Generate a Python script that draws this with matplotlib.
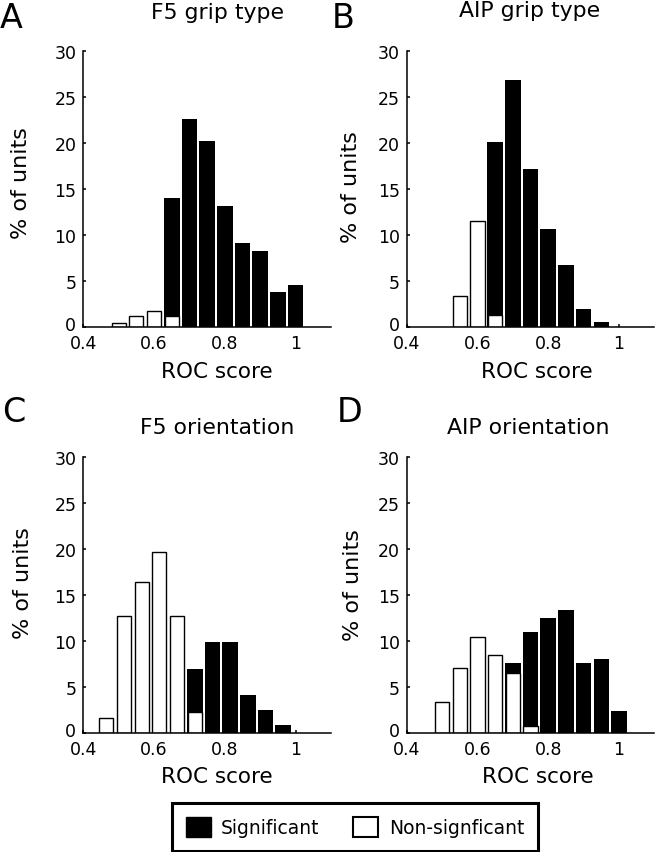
import matplotlib
matplotlib.use("Agg")
import matplotlib.pyplot as plt
import matplotlib.transforms as mtransforms
from matplotlib.patches import Patch
import numpy as np

# bin centres (ROC score) and % of units per bin
f5_grip_bins = [0.50, 0.55, 0.60, 0.65, 0.70, 0.75, 0.80, 0.85, 0.90, 0.95, 1.00]
f5_grip_sig = [0, 0, 0, 14.0, 22.6, 20.2, 13.2, 9.1, 8.3, 3.8, 4.6]
f5_grip_nonsig = [0.45, 1.25, 1.7, 1.15, 0, 0, 0, 0, 0, 0, 0]

aip_grip_bins = [0.55, 0.60, 0.65, 0.70, 0.75, 0.80, 0.85, 0.90, 0.95]
aip_grip_sig = [0, 0, 20.1, 26.8, 17.2, 10.6, 6.7, 2.0, 0.58]
aip_grip_nonsig = [3.35, 11.5, 1.35, 0, 0, 0, 0, 0, 0]

f5_orient_bins = [0.465, 0.515, 0.565, 0.615, 0.665, 0.715, 0.765, 0.815, 0.865, 0.915, 0.965]
f5_orient_sig = [0, 0, 0, 0, 0, 7.0, 9.9, 9.9, 4.15, 2.5, 0.85]
f5_orient_nonsig = [1.7, 12.7, 16.4, 19.7, 12.7, 2.3, 0, 0, 0, 0, 0]

aip_orient_bins = [0.50, 0.55, 0.60, 0.65, 0.70, 0.75, 0.80, 0.85, 0.90, 0.95, 1.00]
aip_orient_sig = [0, 0, 0, 0, 7.65, 11.05, 12.5, 13.4, 7.65, 8.1, 2.45]
aip_orient_nonsig = [3.35, 7.1, 10.5, 8.55, 6.55, 0.8, 0, 0, 0, 0, 0]

titles = ["F5 grip type", "AIP grip type", "F5 orientation", "AIP orientation"]
letters = ["A", "B", "C", "D"]
x_ticks = [0.4, 0.6, 0.8, 1.0]
x_ticklabels = ["0.4", "0.6", "0.8", "1"]
y_ticks = [0, 5, 10, 15, 20, 25, 30]

W, H = 655, 853
fig = plt.figure(figsize=(W / 100, H / 100), dpi=100)


def px_text(x, y, s, **kw):
    # place text using pixel coords measured from the top left
    fig.text(x / W, 1 - y / H, s, **kw)


def do_hist(left, top, bins, sig, nonsig):
    # axes box in pixels: left, top, 247.7 wide, 276 tall
    ax = fig.add_axes([left / W, 1 - (top + 276) / H, 247.7 / W, 276 / H])
    bins = np.array(bins)
    sig = np.array(sig)
    nonsig = np.array(nonsig)

    s = sig > 0
    ax.bar(bins[s], sig[s], width=0.044, color="black", linewidth=0)
    n = nonsig > 0
    ax.bar(bins[n], nonsig[n], width=0.040, facecolor="white", edgecolor="black", linewidth=1.0)

    ax.set_xlim(0.4, 1.1)
    ax.set_ylim(0, 30)
    ax.set_xticks(x_ticks)
    ax.set_xticklabels(x_ticklabels)
    ax.set_yticks(y_ticks)
    ax.set_axisbelow(True)

    ax.spines["top"].set_visible(False)
    ax.spines["right"].set_visible(False)
    for sp in ["left", "bottom"]:
        ax.spines[sp].set_linewidth(1.1)
    ax.tick_params(direction="in", length=2.5, width=1.1, labelsize=12.5)
    ax.tick_params(axis="y", pad=5)
    ax.tick_params(axis="x", pad=5)

    # nudge the "0" on the y axis up a bit so it clears the "0.4" below it
    lab0 = ax.yaxis.get_major_ticks()[0].label1
    lab0.set_transform(lab0.get_transform() +
                       mtransforms.ScaledTranslation(0, 4 / 100, fig.dpi_scale_trans))
    return ax


do_hist(83.3, 52, f5_grip_bins, f5_grip_sig, f5_grip_nonsig)
do_hist(406.7, 52, aip_grip_bins, aip_grip_sig, aip_grip_nonsig)
do_hist(83.3, 458.3, f5_orient_bins, f5_orient_sig, f5_orient_nonsig)
do_hist(406.7, 458.3, aip_orient_bins, aip_orient_sig, aip_orient_nonsig)

# titles
px_text(218, 19, titles[0], ha="center", va="baseline", fontsize=15.8)
px_text(530, 17, titles[1], ha="center", va="baseline", fontsize=15.8)
px_text(217, 434, titles[2], ha="center", va="baseline", fontsize=15.8)
px_text(528, 434, titles[3], ha="center", va="baseline", fontsize=15.8)

# panel letters
px_text(0, 28, letters[0], ha="left", va="baseline", fontsize=24)
px_text(332, 28, letters[1], ha="left", va="baseline", fontsize=24)
px_text(2, 422, letters[2], ha="left", va="baseline", fontsize=24)
px_text(337, 422, letters[3], ha="left", va="baseline", fontsize=24)

# axis labels
for x, y in [(21, 183), (351, 187), (23, 583), (353, 585)]:
    px_text(x, y, "% of units", ha="center", va="center", rotation=90, fontsize=16)
for x, y in [(217, 378), (537, 378), (217, 783), (538, 783)]:
    px_text(x, y, "ROC score", ha="center", va="baseline", fontsize=15.5)

handles = [Patch(facecolor="black", edgecolor="black"),
           Patch(facecolor="white", edgecolor="black", linewidth=1.5)]
leg = fig.legend(handles, ["Significant", "Non-signficant"], ncol=2,
                 loc="center", bbox_to_anchor=(355 / W, 1 - 828 / H),
                 fontsize=13.5, frameon=True, fancybox=False, framealpha=1,
                 edgecolor="black", handlelength=1.33, handleheight=1.33,
                 handletextpad=0.55, columnspacing=1.8, borderpad=0.72)
leg.get_frame().set_linewidth(2.2)

plt.savefig("out.png", dpi=100)
